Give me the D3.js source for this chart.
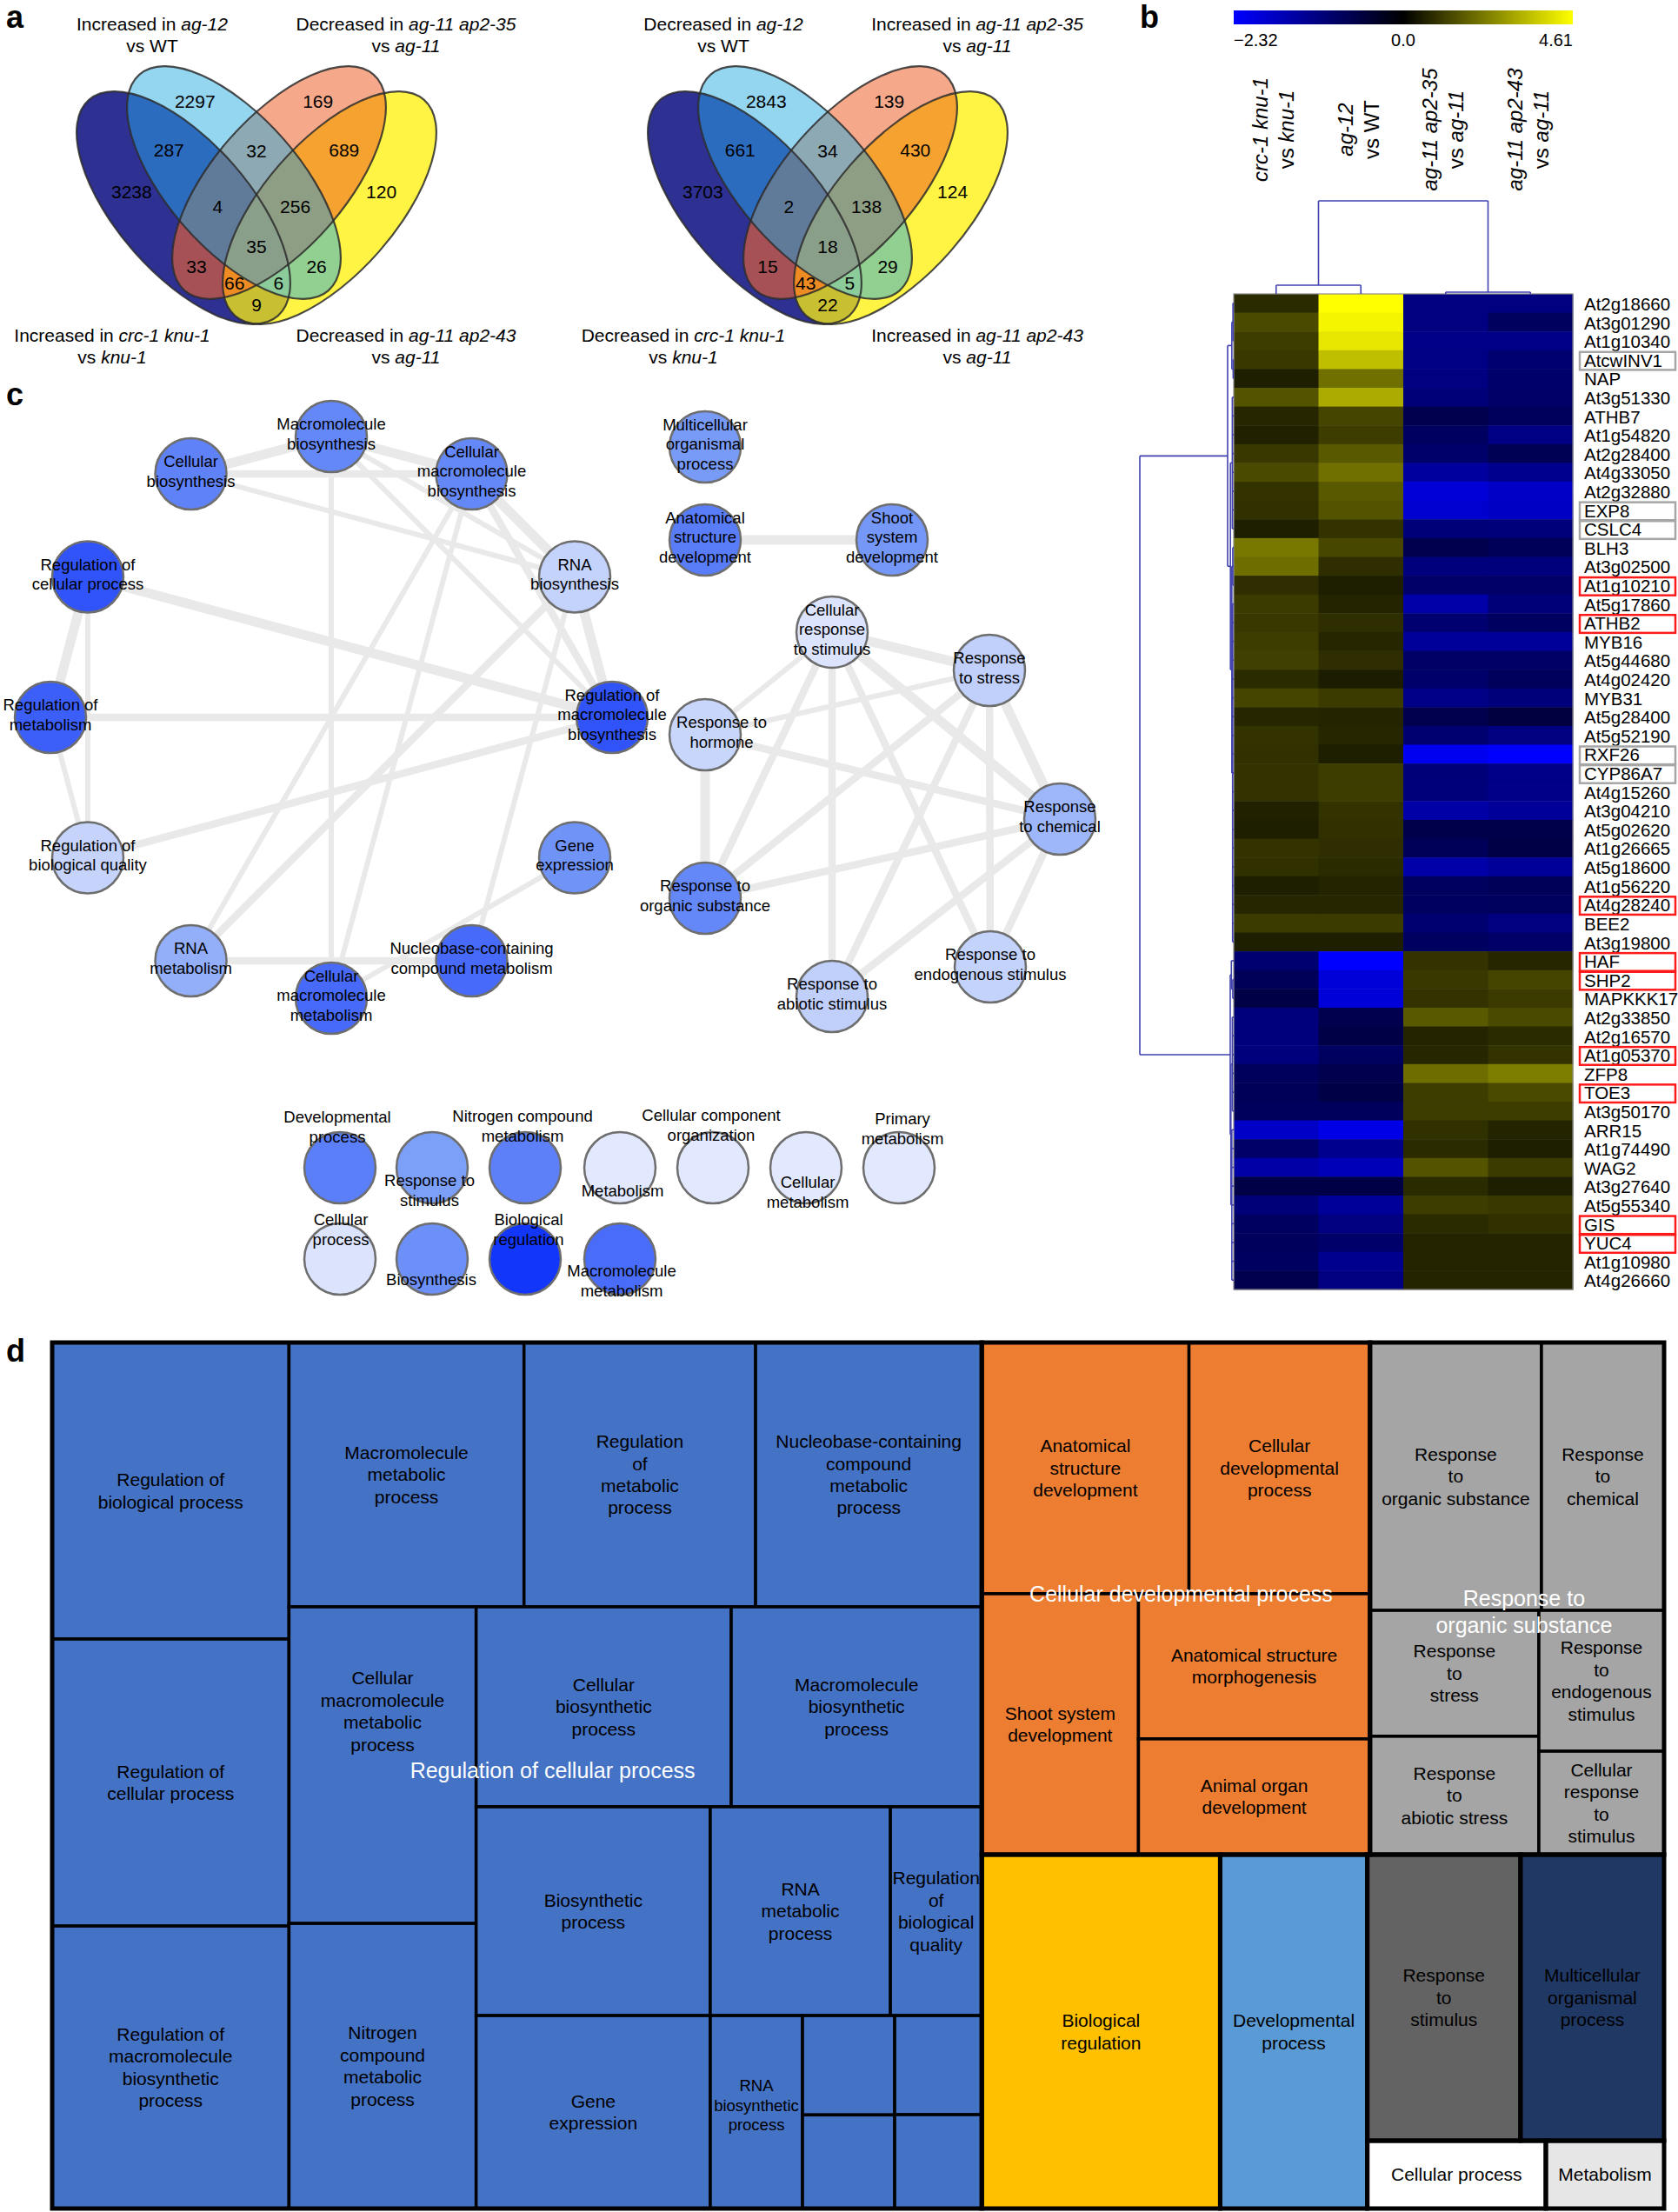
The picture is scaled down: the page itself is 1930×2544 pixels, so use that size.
<!DOCTYPE html>
<html>
<head>
<meta charset="utf-8">
<script src="https://cdn.jsdelivr.net/npm/d3@7"></script>
<style>
  body { margin: 0; background: #fff; }
  svg { display: block; font-family: "Liberation Sans", Arial, Helvetica, sans-serif; }
</style>
</head>
<body>
<svg id="figure"></svg>
<script>
// ================= data =================

// a: Venn counts. Letters name the sets a region belongs to:
// A crc-1 knu-1 vs knu-1, B ag-12 vs WT, C ag-11 ap2-35 vs ag-11, D ag-11 ap2-43 vs ag-11
let vennRegions = ["A", "B", "C", "D", "AB", "AC", "AD", "BC", "BD", "CD", "ABC", "ABD", "ACD", "BCD", "ABCD"]
let vennLeft = [3238, 2297, 169, 120, 287, 33, 9, 32, 26, 689, 4, 6, 66, 256, 35]
let vennRight = [3703, 2843, 139, 124, 661, 15, 22, 34, 29, 430, 2, 5, 43, 138, 18]
// titles: top-left (B), top-right (C), bottom-left (A), bottom-right (D); *italic*, | new line
let vennTitlesLeft = ["Increased in *ag-12*|vs WT", "Decreased in *ag-11 ap2-35*|vs *ag-11*",
                      "Increased in *crc-1 knu-1*|vs *knu-1*", "Decreased in *ag-11 ap2-43*|vs *ag-11*"]
let vennTitlesRight = ["Decreased in *ag-12*|vs WT", "Increased in *ag-11 ap2-35*|vs *ag-11*",
                       "Decreased in *crc-1 knu-1*|vs *knu-1*", "Increased in *ag-11 ap2-43*|vs *ag-11*"]

// b: heatmap (log2 fold change)
let genes = ["At2g18660", "At3g01290", "At1g10340", "AtcwINV1", "NAP", "At3g51330", "ATHB7", "At1g54820",
  "At2g28400", "At4g33050", "At2g32880", "EXP8", "CSLC4", "BLH3", "At3g02500", "At1g10210", "At5g17860",
  "ATHB2", "MYB16", "At5g44680", "At4g02420", "MYB31", "At5g28400", "At5g52190", "RXF26", "CYP86A7",
  "At4g15260", "At3g04210", "At5g02620", "At1g26665", "At5g18600", "At1g56220", "At4g28240", "BEE2",
  "At3g19800", "HAF", "SHP2", "MAPKKK17", "At2g33850", "At2g16570", "At1g05370", "ZFP8", "TOE3",
  "At3g50170", "ARR15", "At1g74490", "WAG2", "At3g27640", "At5g55340", "GIS", "YUC4", "At1g10980", "At4g26660"]
let crcKnu = [0.78, 1.34, 1.11, 1.01, 0.55, 1.52, 0.69, 0.60, 1.01, 1.34, 0.92, 0.88, 0.55, 2.17, 1.98, 0.83,
  1.06, 1.01, 1.11, 1.15, 0.78, 1.24, 0.69, 0.92, 0.88, 0.92, 0.92, 0.60, 0.55, 0.92, 0.88, 0.55, 0.69, 1.06,
  0.55, -1.02, -0.81, -0.65, -1.14, -1.14, -1.14, -0.84, -0.81, -0.84, -1.81, -0.95, -1.51, -0.65, -1.09,
  -0.88, -0.84, -0.88, -0.72]
let ag12 = [4.61, 4.43, 4.15, 3.46, 2.03, 3.09, 1.24, 1.11, 1.61, 2.03, 1.61, 1.52, 0.92, 1.29, 0.83, 0.55,
  0.65, 0.83, 0.69, 0.83, 0.51, 1.06, 0.65, 0.69, 0.55, 1.11, 1.11, 0.92, 0.88, 0.83, 0.78, 0.65, 0.69, 1.06,
  0.55, -2.32, -1.97, -1.97, -0.72, -0.65, -0.88, -0.72, -0.65, -0.84, -2.09, -1.30, -1.67, -0.65, -1.39,
  -1.16, -0.97, -1.30, -1.16]
let ap235 = [-1.16, -1.16, -1.23, -1.21, -1.16, -1.09, -0.72, -0.88, -0.97, -1.44, -1.95, -1.88, -1.09, -0.72,
  -1.14, -0.95, -1.53, -1.02, -1.39, -0.93, -0.97, -1.23, -0.72, -1.02, -2.18, -1.09, -1.11, -1.51, -0.67,
  -0.81, -1.53, -0.88, -0.88, -1.02, -0.88, 0.92, 1.01, 0.92, 1.61, 0.65, 0.69, 1.98, 1.11, 1.11, 0.88, 0.78,
  1.52, 0.78, 1.11, 0.78, 0.65, 0.65, 0.65]
let ap243 = [-1.16, -0.86, -1.23, -1.02, -0.97, -0.95, -0.84, -1.21, -0.77, -1.30, -1.81, -1.79, -1.11, -0.81,
  -1.14, -0.95, -1.09, -0.88, -1.39, -0.93, -0.84, -1.11, -0.56, -1.16, -2.32, -1.23, -1.25, -1.39, -0.67,
  -0.65, -1.39, -0.81, -0.86, -1.16, -0.95, 0.69, 1.24, 1.06, 1.34, 0.78, 0.92, 2.26, 1.34, 1.11, 0.65, 0.55,
  1.06, 0.55, 1.01, 0.88, 0.65, 0.65, 0.65]
let heatColumns = ["*crc-1 knu-1*|vs *knu-1*", "*ag-12*|vs WT", "*ag-11 ap2-35*|vs *ag-11*", "*ag-11 ap2-43*|vs *ag-11*"]
let colorTicks = [-2.32, 0, 4.61]
let grayBoxed = ["AtcwINV1", "EXP8", "CSLC4", "RXF26", "CYP86A7"]
let redBoxed = ["At1g10210", "ATHB2", "At4g28240", "HAF", "SHP2", "At1g05370", "TOE3", "GIS", "YUC4"]
// clustering trees: h = merge height, c = children (numbers are row / column indices)
let rowTree = {h: 1, c: [
  {h: 0.065, c: [
    {h: 0.02, c: [{h: 0.008, c: [0, 1, 2]}, {h: 0.006, c: [3, 4]}]},
    {h: 0.035, c: [{h: 0.015, c: [5, 6, 7, 8, 9, 10, 11, 12]},
                   {h: 0.02, c: [{h: 0.01, c: [13, 14, 15]},
                                 {h: 0.012, c: [16, 17, 18, 19, 20, 21, 22, 23, 24, 25, 26, 27, 28, 29, 30, 31, 32, 33, 34]}]}]}]},
  {h: 0.037, c: [
    {h: 0.025, c: [35, {h: 0.01, c: [36, 37]}]},
    {h: 0.03, c: [{h: 0.015, c: [38, 39, 40, 41, 42, 43]}, {h: 0.02, c: [44, 45, 46, 47, 48, 49, 50, 51, 52]}]}]}]}
let colTree = {h: 1, c: [{h: 0.093, c: [0, 1]}, {h: 0.019, c: [2, 3]}]}

// c: GO term network (layout coordinates, enrichment score 0..1)
let netNodes = [
  {name: "Macromolecule\nbiosynthesis", x: 38.1, y: 50.2, score: 0.60},
  {name: "Cellular\nmacromolecule\nbiosynthesis", x: 54.25, y: 54.5, score: 0.60},
  {name: "RNA\nbiosynthesis", x: 66.1, y: 66.35, score: 0.15},
  {name: "Regulation of\nmacromolecule\nbiosynthesis", x: 70.4, y: 82.5, score: 0.86},
  {name: "Gene\nexpression", x: 66.1, y: 98.65, score: 0.55},
  {name: "Nucleobase-containing\ncompound metabolism", x: 54.25, y: 110.5, score: 0.75},
  {name: "Cellular\nmacromolecule\nmetabolism", x: 38.1, y: 114.8, score: 0.75},
  {name: "RNA\nmetabolism", x: 21.95, y: 110.5, score: 0.38},
  {name: "Regulation of\nbiological quality", x: 10.1, y: 98.65, score: 0.14},
  {name: "Regulation of\nmetabolism", x: 5.8, y: 82.5, score: 0.80},
  {name: "Regulation of\ncellular process", x: 10.1, y: 66.35, score: 0.86},
  {name: "Cellular\nbiosynthesis", x: 21.95, y: 54.5, score: 0.63},
  {name: "Multicellular\norganismal\nprocess", x: 81.1, y: 51.4, score: 0.51},
  {name: "Anatomical\nstructure\ndevelopment", x: 81.1, y: 62.1, score: 0.66},
  {name: "Shoot\nsystem\ndevelopment", x: 102.6, y: 62.1, score: 0.53},
  {name: "Cellular\nresponse\nto stimulus", x: 95.7, y: 72.7, score: 0.04},
  {name: "Response\nto stress", x: 113.8, y: 77.1, score: 0.17},
  {name: "Response to\nhormone", x: 81.1, y: 84.5, score: 0.13},
  {name: "Response\nto chemical", x: 121.9, y: 94.2, score: 0.33},
  {name: "Response to\norganic substance", x: 81.1, y: 103.3, score: 0.60},
  {name: "Response to\nendogenous stimulus", x: 113.9, y: 111.2, score: 0.15},
  {name: "Response to\nabiotic stimulus", x: 95.7, y: 114.6, score: 0.17},
  {name: "Developmental\nprocess", x: 39.1, y: 134.3, score: 0.65},
  {name: "Response to\nstimulus", x: 49.7, y: 134.3, score: 0.49},
  {name: "Nitrogen compound\nmetabolism", x: 60.4, y: 134.3, score: 0.64},
  {name: "Metabolism", x: 71.3, y: 134.3, score: 0.01},
  {name: "Cellular component\norganization", x: 82.0, y: 134.3, score: 0.01},
  {name: "Cellular\nmetabolism", x: 92.7, y: 134.3, score: 0.01},
  {name: "Primary\nmetabolism", x: 103.4, y: 134.3, score: 0.01},
  {name: "Cellular\nprocess", x: 39.1, y: 144.8, score: 0.04},
  {name: "Biosynthesis", x: 49.7, y: 144.8, score: 0.57},
  {name: "Biological\nregulation", x: 60.4, y: 144.8, score: 1.00},
  {name: "Macromolecule\nmetabolism", x: 71.3, y: 144.8, score: 0.74}
]
// [source, target, overlap weight 1..2]
let netEdges = [
  [0, 11, 2], [0, 1, 2], [0, 6, 1], [0, 3, 1], [0, 2, 1], [11, 1, 1.5], [11, 2, 1], [1, 2, 2], [1, 3, 1.5],
  [1, 7, 1], [1, 6, 1], [2, 3, 2], [2, 7, 1.5], [2, 5, 1], [10, 9, 2], [10, 8, 1], [10, 3, 2], [9, 3, 1.5],
  [9, 8, 1], [8, 3, 1.5], [4, 6, 1], [7, 5, 1.5],
  [13, 14, 2], [15, 16, 2], [15, 17, 1], [15, 19, 1.5], [15, 21, 1.5], [15, 20, 1.5], [15, 18, 2],
  [16, 17, 1], [16, 19, 1.5], [16, 21, 1.5], [16, 20, 1.5], [16, 18, 2], [17, 19, 2], [17, 18, 1.5],
  [19, 18, 1.5], [18, 20, 1.5], [18, 21, 1.5]
]

// d: REVIGO treemap
let tmTerms = ["Regulation of\nbiological process", "Regulation of\ncellular process",
  "Regulation of\nmacromolecule\nbiosynthetic\nprocess", "Macromolecule\nmetabolic\nprocess",
  "Regulation\nof\nmetabolic\nprocess", "Nucleobase-containing\ncompound\nmetabolic\nprocess",
  "Cellular\nmacromolecule\nmetabolic\nprocess", "Nitrogen\ncompound\nmetabolic\nprocess",
  "Cellular\nbiosynthetic\nprocess", "Macromolecule\nbiosynthetic\nprocess", "Biosynthetic\nprocess",
  "RNA\nmetabolic\nprocess", "Regulation\nof\nbiological\nquality", "Gene\nexpression",
  "RNA\nbiosynthetic\nprocess", "", "", "", "",
  "Anatomical\nstructure\ndevelopment", "Cellular\ndevelopmental\nprocess", "Shoot system\ndevelopment",
  "Anatomical structure\nmorphogenesis", "Animal organ\ndevelopment",
  "Response\nto\norganic substance", "Response\nto\nchemical", "Response\nto\nstress",
  "Response\nto\nabiotic stress", "Response\nto\nendogenous\nstimulus", "Cellular\nresponse\nto\nstimulus",
  "Biological\nregulation", "Developmental\nprocess", "Response\nto\nstimulus",
  "Multicellular\norganismal\nprocess", "Cellular process", "Metabolism"]
let tmSizes = [92.8, 89.8, 88.4, 82.1, 80.9, 79.0, 78.3, 70.5, 67.4, 66.2, 64.6, 49.7, 25.2, 59.7, 23.5,
  12.1, 11.4, 11.4, 10.8, 68.8, 60.1, 54.0, 44.4, 35.4, 60.7, 43.4, 28.1, 26.4, 23.3, 17.1,
  111.5, 68.8, 57.9, 54.3, 16.0, 10.6]
let tmGroups = ["Regulation of cellular process", "Cellular developmental process", "Response to\norganic substance",
  "Biological regulation", "Developmental process", "Response to stimulus", "Multicellular organismal process",
  "Cellular process", "Metabolism"]
let tmGroupOf = [0, 0, 0, 0, 0, 0, 0, 0, 0, 0, 0, 0, 0, 0, 0, 0, 0, 0, 0, 1, 1, 1, 1, 1, 2, 2, 2, 2, 2, 2,
  3, 4, 5, 6, 7, 8]
// how the rectangle is split: "h" side by side, "v" stacked; numbers index tmTerms
let tmSplits = ["h",
  ["h", ["v", 0, 1, 2],
        ["v", ["h", 3, 4, 5],
              ["h", ["v", 6, 7],
                    ["v", ["h", 8, 9], ["h", 10, 11, 12], ["h", 13, 14, ["v", 15, 16], ["v", 17, 18]]]]]],
  ["v", ["h", ["v", ["h", 19, 20], ["h", 21, ["v", 22, 23]]],
              ["v", ["h", 24, 25], ["h", ["v", 26, 27], ["v", 28, 29]]]],
        ["h", 30, 31, ["v", ["h", 32, 33], ["h", 34, 35]]]]]

// ================= drawing =================
const W = 1930, H = 2544
const svg = d3.select("#figure").attr("width", W).attr("height", H).attr("viewBox", `0 0 ${W} ${H}`)
const defs = svg.append("defs")

function richText(sel, str) {
  str.split("*").forEach((part, i) => {
    if (part) sel.append("tspan").attr("font-style", i % 2 ? "italic" : null).text(part)
  })
}

function centredLines(g, str, x, y, lh, size, fill) {
  let lines = str.split("\n")
  lines.forEach((l, i) => {
    g.append("text")
      .attr("x", x).attr("y", y + (i - (lines.length - 1) / 2) * lh)
      .attr("dy", "0.35em").attr("text-anchor", "middle")
      .attr("font-size", size).attr("fill", fill || "#000")
      .text(l)
  })
}

// panel letters
let letters = [["a", 7, 32], ["b", 1311, 32], ["c", 7, 466], ["d", 7, 1566]]
svg.selectAll("text.letter").data(letters).enter().append("text")
  .attr("class", "letter").attr("x", d => d[1]).attr("y", d => d[2])
  .attr("font-size", 36).attr("font-weight", "bold").text(d => d[0])

// ---------- a: Venn diagrams ----------
const venn = {
  a: 165, b: 76,
  centre: {A: [-84, 239], B: [-26, 210], C: [26, 210], D: [84, 239]},
  rot: {A: 48.75, B: 48.75, C: -48.75, D: -48.75},
  fill: {A: "#2e3092", B: "#94d5f0", C: "#f6a98a", D: "#fff443", AB: "#2c6cbf", AC: "#a55156",
         AD: "#c9bf33", BC: "#8da9b3", BD: "#92d092", CD: "#f6a231", ABC: "#607a9a", ABD: "#8ccb9a",
         ACD: "#ee8b23", BCD: "#8e9e84", ABCD: "#8a9f8a"},
  titles: [[-120, 35], [172, 35], [-166, 393], [172, 393]]
}

function drawVenn(axis, counts, titles, key) {
  let g = svg.append("g")
  let ell = {}
  "ABCD".split("").forEach(s => {
    ell[s] = {cx: axis + venn.centre[s][0], cy: venn.centre[s][1], rot: venn.rot[s]}
    defs.append("clipPath").attr("id", `clip-${key}-${s}`)
      .append("ellipse").attr("rx", venn.a).attr("ry", venn.b)
      .attr("transform", `translate(${ell[s].cx},${ell[s].cy}) rotate(${ell[s].rot})`)
  })
  // each region painted as the intersection of its sets, smallest first
  let order = d3.range(vennRegions.length).sort((i, j) => vennRegions[i].length - vennRegions[j].length)
  order.forEach(i => {
    let sets = vennRegions[i].split("")
    let host = g
    sets.slice(0, -1).forEach(s => { host = host.append("g").attr("clip-path", `url(#clip-${key}-${s})`) })
    let e = ell[sets[sets.length - 1]]
    host.append("ellipse").attr("rx", venn.a).attr("ry", venn.b)
      .attr("transform", `translate(${e.cx},${e.cy}) rotate(${e.rot})`)
      .attr("fill", venn.fill[vennRegions[i]])
  })
  g.selectAll("ellipse.outline").data("ABCD".split("")).enter().append("ellipse")
    .attr("class", "outline").attr("rx", venn.a).attr("ry", venn.b)
    .attr("transform", s => `translate(${ell[s].cx},${ell[s].cy}) rotate(${ell[s].rot})`)
    .attr("fill", "none").attr("stroke", "#2b2b2b").attr("stroke-width", 2.2).attr("stroke-opacity", 0.85)

  // label each region at its centroid
  function inside(e, x, y) {
    let t = e.rot * Math.PI / 180, dx = x - e.cx, dy = y - e.cy
    let u = dx * Math.cos(t) + dy * Math.sin(t), v = -dx * Math.sin(t) + dy * Math.cos(t)
    return (u / venn.a) ** 2 + (v / venn.b) ** 2 <= 1
  }
  let acc = {}
  for (let x = axis - 230; x <= axis + 230; x += 2) {
    for (let y = 60; y <= 400; y += 2) {
      let k = "ABCD".split("").filter(s => inside(ell[s], x, y)).join("")
      if (!k) continue
      acc[k] = acc[k] || [0, 0, 0]
      acc[k][0] += x; acc[k][1] += y; acc[k][2] += 1
    }
  }
  vennRegions.forEach((r, i) => {
    let c = acc[r]
    g.append("text").attr("x", c[0] / c[2]).attr("y", c[1] / c[2]).attr("dy", "0.35em")
      .attr("text-anchor", "middle").attr("font-size", 21).text(counts[i])
  })
  titles.forEach((t, i) => {
    t.split("|").forEach((line, j) => {
      let txt = g.append("text").attr("x", axis + venn.titles[i][0]).attr("y", venn.titles[i][1] + j * 25)
        .attr("text-anchor", "middle").attr("font-size", 21)
      richText(txt, line)
    })
  })
}
drawVenn(295, vennLeft, vennTitlesLeft, "l")
drawVenn(952, vennRight, vennTitlesRight, "r")

// ---------- b: heatmap ----------
const heat = {x0: 1419, x1: 1809, y0: 338, y1: 1483}
let columns = [crcKnu, ag12, ap235, ap243]
let xBand = d3.scaleBand().domain(d3.range(columns.length)).range([heat.x0, heat.x1])
let yBand = d3.scaleBand().domain(genes).range([heat.y0, heat.y1])
let colour = d3.scaleLinear().domain(colorTicks).range(["#0000ff", "#000000", "#ffff00"]).clamp(true)

let hg = svg.append("g")
columns.forEach((col, ci) => {
  hg.selectAll(null).data(col).enter().append("rect")
    .attr("x", xBand(ci)).attr("y", (v, i) => yBand(genes[i]))
    .attr("width", xBand.bandwidth() + 0.5).attr("height", yBand.bandwidth() + 0.5)
    .attr("fill", v => colour(v))
})
hg.append("rect").attr("x", heat.x0).attr("y", heat.y0).attr("width", heat.x1 - heat.x0)
  .attr("height", heat.y1 - heat.y0).attr("fill", "none").attr("stroke", "#8a8a8a").attr("stroke-width", 1.2)

// gene labels and boxes
hg.selectAll("text.gene").data(genes).enter().append("text")
  .attr("class", "gene").attr("x", 1822).attr("y", g => yBand(g) + yBand.bandwidth() / 2 + 1)
  .attr("dy", "0.35em").attr("font-size", 20.5).text(g => g)
hg.selectAll("rect.box").data(genes.filter(g => grayBoxed.includes(g) || redBoxed.includes(g))).enter()
  .append("rect").attr("class", "box")
  .attr("x", 1817).attr("y", g => yBand(g) + 2).attr("width", 110).attr("height", yBand.bandwidth() - 1)
  .attr("fill", "none").attr("stroke-width", 2.5)
  .attr("stroke", g => redBoxed.includes(g) ? "#ff1a1a" : "#a6a6a6")

// column labels (rotated)
heatColumns.forEach((lab, ci) => {
  let gc = hg.append("g").attr("transform", `translate(${xBand(ci) + xBand.bandwidth() / 2},149) rotate(-90)`)
  lab.split("|").forEach((line, j) => {
    let t = gc.append("text").attr("x", 0).attr("y", j === 0 ? -18 : 12).attr("dy", "0.35em")
      .attr("text-anchor", "middle").attr("font-size", 24)
    richText(t, line)
  })
})

// colour key
let keyScale = d3.scaleLinear().domain(colorTicks).range([heat.x0, (heat.x0 + heat.x1) / 2, heat.x1])
let grad = defs.append("linearGradient").attr("id", "key")
colorTicks.forEach(v => grad.append("stop")
  .attr("offset", (keyScale(v) - heat.x0) / (heat.x1 - heat.x0)).attr("stop-color", colour(v)))
hg.append("rect").attr("x", heat.x0).attr("y", 12).attr("width", heat.x1 - heat.x0).attr("height", 16)
  .attr("fill", "url(#key)")
hg.selectAll("text.tick").data(colorTicks).enter().append("text").attr("class", "tick")
  .attr("x", v => keyScale(v)).attr("y", 46).attr("dy", "0.35em").attr("font-size", 20)
  .attr("text-anchor", (v, i) => i === 0 ? "start" : i === colorTicks.length - 1 ? "end" : "middle")
  .text(v => v === 0 ? "0.0" : d3.format(".2f")(v))

// dendrograms
function dendrogram(tree, leafPos, hPos, rowwise) {
  let g = svg.append("g").attr("stroke", "#4141b0").attr("stroke-width", 1.6).attr("fill", "none")
  function seg(h1, p1, h2, p2) {
    let [x1, y1, x2, y2] = rowwise ? [h1, p1, h2, p2] : [p1, h1, p2, h2]
    g.append("line").attr("x1", x1).attr("y1", y1).attr("x2", x2).attr("y2", y2)
  }
  function walk(n) {
    if (typeof n === "number") return {p: leafPos(n), h: 0}
    let kids = n.c.map(walk)
    kids.forEach(k => seg(hPos(n.h), k.p, hPos(k.h), k.p))
    seg(hPos(n.h), kids[0].p, hPos(n.h), kids[kids.length - 1].p)
    return {p: (kids[0].p + kids[kids.length - 1].p) / 2, h: n.h}
  }
  walk(tree)
}
dendrogram(rowTree, i => yBand(genes[i]) + yBand.bandwidth() / 2,
  d3.scaleLinear().domain([0, 1]).range([heat.x0, 1311]), true)
dendrogram(colTree, i => xBand(i) + xBand.bandwidth() / 2,
  d3.scaleLinear().domain([0, 1]).range([heat.y0, 231]), false)

// ---------- c: network ----------
let netX = d3.scaleLinear().domain([0, 100]).range([0, 1000])
let netY = d3.scaleLinear().domain([0, 100]).range([0, 1000])
let nodeFill = d3.scaleLinear().domain([0, 0.5, 1]).range(["#e4eafd", "#7a9df8", "#1336fb"])
let edgeWidth = d3.scaleLinear().domain([1, 2]).range([6, 11])
const labelShift = {17: [19, -3], 22: [-3, -47], 23: [-3, 26], 24: [-3, -48], 25: [3, 27], 26: [-2, -49],
                    27: [2, 28], 28: [4, -45], 29: [1, -34], 30: [-1, 24], 31: [4, -34], 32: [2, 25]}
let ng = svg.append("g")
ng.selectAll("line").data(netEdges).enter().append("line")
  .attr("x1", e => netX(netNodes[e[0]].x)).attr("y1", e => netY(netNodes[e[0]].y))
  .attr("x2", e => netX(netNodes[e[1]].x)).attr("y2", e => netY(netNodes[e[1]].y))
  .attr("stroke", "#e9e9e9").attr("stroke-width", e => edgeWidth(e[2]))
ng.selectAll("circle").data(netNodes).enter().append("circle")
  .attr("cx", d => netX(d.x)).attr("cy", d => netY(d.y)).attr("r", 41)
  .attr("fill", d => nodeFill(d.score)).attr("stroke", "#6e6e6e").attr("stroke-width", 2.5)
netNodes.forEach((d, i) => {
  let s = labelShift[i] || [0, -3]
  centredLines(ng, d.name, netX(d.x) + s[0], netY(d.y) + s[1], 22.5, 18.5)
})

// ---------- d: treemap ----------
const tm = {x0: 60, y0: 1544, x1: 1914, y1: 2540}
let groupFill = ["#4472c4", "#ed7d31", "#a5a5a5", "#ffc000", "#5b9bd5", "#636363", "#203864", "#ffffff", "#e7e6e6"]
const termNudge = {6: [0, -62], 14: [0, -8]}
const termSize = {14: 18.5}
const groupNudge = {0: [41, -6], 1: [6, -5], 2: [8, 15]}
function toNode(s) {
  return typeof s === "number" ? {term: s} : {dir: s[0], children: s.slice(1).map(toNode)}
}
let root = d3.hierarchy(toNode(tmSplits)).sum(d => d.children ? 0 : tmSizes[d.term])
d3.treemap().size([tm.x1 - tm.x0, tm.y1 - tm.y0])
  .tile((node, x0, y0, x1, y1) => (node.data.dir === "h" ? d3.treemapDice : d3.treemapSlice)(node, x0, y0, x1, y1))(root)
let leaves = root.leaves()
let tg = svg.append("g").attr("transform", `translate(${tm.x0},${tm.y0})`)
tg.selectAll("rect.cell").data(leaves).enter().append("rect").attr("class", "cell")
  .attr("x", d => d.x0).attr("y", d => d.y0).attr("width", d => d.x1 - d.x0).attr("height", d => d.y1 - d.y0)
  .attr("fill", d => groupFill[tmGroupOf[d.data.term]]).attr("stroke", "#000").attr("stroke-width", 3.5)
let groups = d3.groups(leaves, d => tmGroupOf[d.data.term]).map(([k, ls]) => ({
  k, n: ls.length,
  x0: d3.min(ls, d => d.x0), y0: d3.min(ls, d => d.y0), x1: d3.max(ls, d => d.x1), y1: d3.max(ls, d => d.y1)
}))
tg.selectAll("rect.group").data(groups).enter().append("rect").attr("class", "group")
  .attr("x", d => d.x0).attr("y", d => d.y0).attr("width", d => d.x1 - d.x0).attr("height", d => d.y1 - d.y0)
  .attr("fill", "none").attr("stroke", "#000").attr("stroke-width", 5)
leaves.forEach(d => {
  let t = d.data.term, s = termNudge[t] || [0, 0], fs = termSize[t] || 21
  if (tmTerms[t]) centredLines(tg, tmTerms[t], (d.x0 + d.x1) / 2 + s[0], (d.y0 + d.y1) / 2 + s[1], fs * 1.21, fs)
})
groups.filter(g => g.n > 1).forEach(g => {
  let s = groupNudge[g.k] || [0, 0]
  centredLines(tg, tmGroups[g.k], (g.x0 + g.x1) / 2 + s[0], (g.y0 + g.y1) / 2 + s[1], 31, 25, "#fff")
})
</script>
</body>
</html>
